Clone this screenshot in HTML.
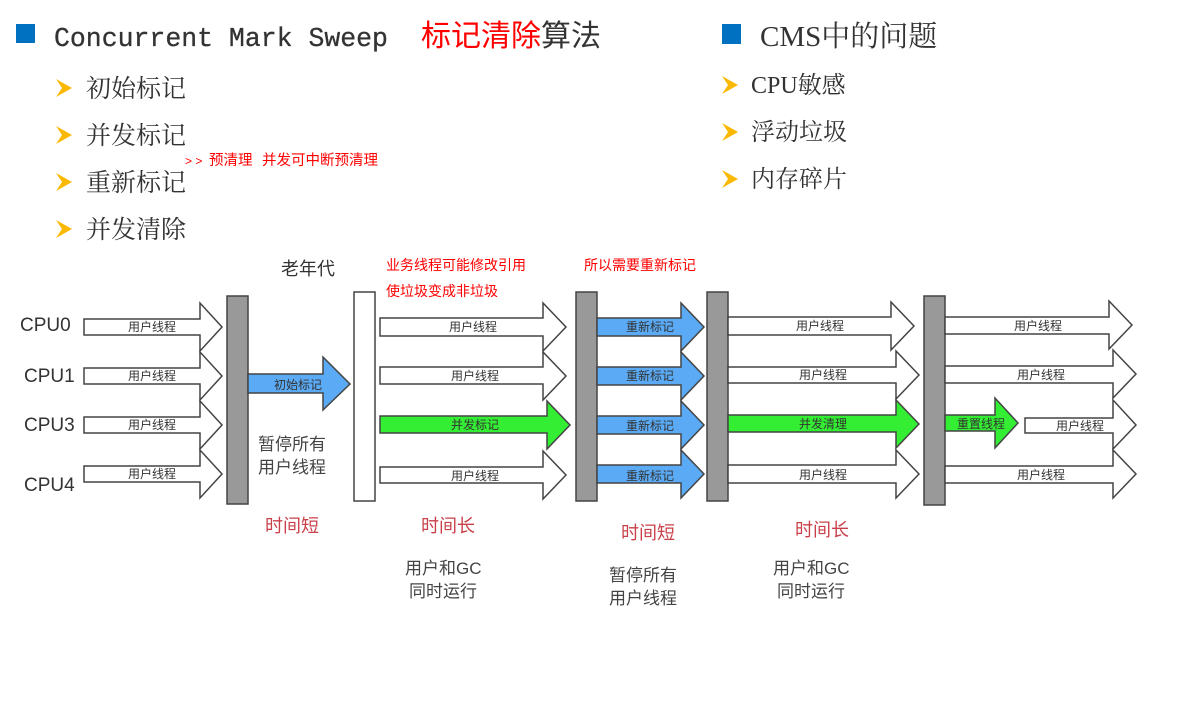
<!DOCTYPE html>
<html><head><meta charset="utf-8"><style>
html,body{margin:0;padding:0;background:#fff;}
svg{display:block;}
.s{font-family:"Liberation Sans","Noto Sans CJK SC",sans-serif;}
.r{font-family:"Liberation Serif","Noto Serif CJK SC",serif;}
.al{font-family:"Liberation Sans","Noto Sans CJK SC",sans-serif;font-size:12px;fill:#333;text-anchor:middle;}
.w{fill:#fff;stroke:#444;stroke-width:1.5;}
.b{fill:#5aaaf5;stroke:#444;stroke-width:1.5;}
.g{fill:#33ee33;stroke:#444;stroke-width:1.5;}
.bar{fill:#999;stroke:#444;stroke-width:1.5;}
</style></head><body>
<svg width="1190" height="717" viewBox="0 0 1190 717" xmlns="http://www.w3.org/2000/svg">
<rect x="16" y="24" width="19" height="19" fill="#0070c0"/>
<text x="54" y="46" font-family="Liberation Mono,monospace" font-size="26.5" fill="#333" stroke="#333" stroke-width="0.3">Concurrent Mark Sweep</text>
<text x="421" y="46" class="s" font-size="30" fill="#f00">标记清除<tspan fill="#333">算法</tspan></text>
<g class="r" font-size="25" fill="#333">
<text x="86" y="97">初始标记</text>
<text x="86" y="144">并发标记</text>
<text x="86" y="191">重新标记</text>
<text x="86" y="238">并发清除</text>
</g>
<g fill="#fbb800">
<polygon points="56,79 72,88 56,97 62,88"/>
<polygon points="56,126 72,135 56,144 62,135"/>
<polygon points="56,173 72,182 56,191 62,182"/>
<polygon points="56,220 72,229 56,238 62,229"/>
<polygon points="722,76 738,85 722,94 728,85"/>
<polygon points="722,123 738,132 722,141 728,132"/>
<polygon points="722,170 738,179 722,188 728,179"/>
</g>
<g class="s" font-size="14.5" fill="#f00">
<text x="185" y="165" font-size="12">&gt; &gt;</text>
<text x="209" y="165">预清理</text>
<text x="262" y="165">并发可中断预清理</text>
</g>
<rect x="722" y="24" width="19" height="20" fill="#0070c0"/>
<text x="760" y="46" class="r" font-size="29" fill="#333">CMS中的问题</text>
<g class="r" font-size="24" fill="#333">
<text x="751" y="93">CPU敏感</text>
<text x="751" y="140">浮动垃圾</text>
<text x="751" y="187">内存碎片</text>
</g>
<g class="s" font-size="18" fill="#333">
<text x="281" y="275">老年代</text>
<text x="20" y="331" font-size="19">CPU0</text>
<text x="24" y="382" font-size="19">CPU1</text>
<text x="24" y="431" font-size="19">CPU3</text>
<text x="24" y="491" font-size="19">CPU4</text>
</g>
<g class="s" font-size="14" fill="#f00">
<text x="386" y="270">业务线程可能修改引用</text>
<text x="386" y="296">使垃圾变成非垃圾</text>
<text x="584" y="270">所以需要重新标记</text>
</g>
<polygon class="w" points="84,319 200,319 200,303 222,327 200,351 200,335 84,335"/>
<polygon class="w" points="84,368 200,368 200,352 222,376 200,400 200,384 84,384"/>
<polygon class="w" points="84,417 200,417 200,401 222,425 200,449 200,433 84,433"/>
<polygon class="w" points="84,466 200,466 200,450 222,474 200,498 200,482 84,482"/>
<text class="al" x="152" y="331">用户线程</text>
<text class="al" x="152" y="380">用户线程</text>
<text class="al" x="152" y="429">用户线程</text>
<text class="al" x="152" y="478">用户线程</text>
<rect class="bar" x="227" y="296" width="21" height="208"/>
<polygon class="b" points="248,374 323,374 323,357 350,384 323,410 323,393 248,393"/>
<text class="al" x="298" y="389">初始标记</text>
<rect x="354" y="292" width="21" height="209" fill="#fff" stroke="#444" stroke-width="1.5"/>
<polygon class="w" points="380,318 543,318 543,303 566,327 543,351 543,336 380,336"/>
<polygon class="w" points="380,367 543,367 543,352 566,376 543,400 543,384 380,384"/>
<polygon class="g" points="380,416 547,416 547,401 570,425 547,449 547,433 380,433"/>
<polygon class="w" points="380,467 543,467 543,451 566,475 543,499 543,483 380,483"/>
<text class="al" x="473" y="331">用户线程</text>
<text class="al" x="475" y="380">用户线程</text>
<text class="al" x="475" y="429">并发标记</text>
<text class="al" x="475" y="480">用户线程</text>
<rect class="bar" x="576" y="292" width="21" height="209"/>
<polygon class="b" points="597,318 681,318 681,303 704,327 681,351 681,336 597,336"/>
<polygon class="b" points="597,367 681,367 681,352 704,376 681,400 681,385 597,385"/>
<polygon class="b" points="597,416 681,416 681,401 704,425 681,449 681,434 597,434"/>
<polygon class="b" points="597,465 681,465 681,450 704,474 681,498 681,483 597,483"/>
<text class="al" x="650" y="331">重新标记</text>
<text class="al" x="650" y="380">重新标记</text>
<text class="al" x="650" y="430">重新标记</text>
<text class="al" x="650" y="480">重新标记</text>
<rect class="bar" x="707" y="292" width="21" height="209"/>
<polygon class="w" points="728,317 891,317 891,302 914,326 891,350 891,335 728,335"/>
<polygon class="w" points="728,367 896,367 896,351 919,375 896,399 896,383 728,383"/>
<polygon class="g" points="728,415 896,415 896,400 919,424 896,448 896,432 728,432"/>
<polygon class="w" points="728,465 896,465 896,450 919,474 896,498 896,483 728,483"/>
<text class="al" x="820" y="330">用户线程</text>
<text class="al" x="823" y="379">用户线程</text>
<text class="al" x="823" y="428">并发清理</text>
<text class="al" x="823" y="479">用户线程</text>
<rect class="bar" x="924" y="296" width="21" height="209"/>
<polygon class="w" points="945,317 1109,317 1109,301 1132,325 1109,349 1109,334 945,334"/>
<polygon class="w" points="945,366 1113,366 1113,350 1136,374 1113,398 1113,383 945,383"/>
<polygon class="w" points="1025,418 1113,418 1113,400 1136,425 1113,449 1113,433 1025,433"/>
<polygon class="w" points="945,466 1113,466 1113,450 1136,474 1113,498 1113,483 945,483"/>
<polygon class="g" points="945,415 995,415 995,398 1018,423 995,448 995,431 945,431"/>
<text class="al" x="1038" y="330">用户线程</text>
<text class="al" x="1041" y="379">用户线程</text>
<text class="al" x="981" y="428">重置线程</text>
<text class="al" x="1080" y="430">用户线程</text>
<text class="al" x="1041" y="479">用户线程</text>
<g class="s" font-size="17" fill="#444">
<text x="258" y="450">暂停所有</text>
<text x="258" y="473">用户线程</text>
<text x="405" y="574">用户和GC</text>
<text x="409" y="597">同时运行</text>
<text x="609" y="581">暂停所有</text>
<text x="609" y="604">用户线程</text>
<text x="773" y="574">用户和GC</text>
<text x="777" y="597">同时运行</text>
</g>
<g class="s" font-size="18" fill="#c9404a">
<text x="265" y="532">时间短</text>
<text x="421" y="532">时间长</text>
<text x="621" y="539">时间短</text>
<text x="795" y="536">时间长</text>
</g>
</svg>
</body></html>
